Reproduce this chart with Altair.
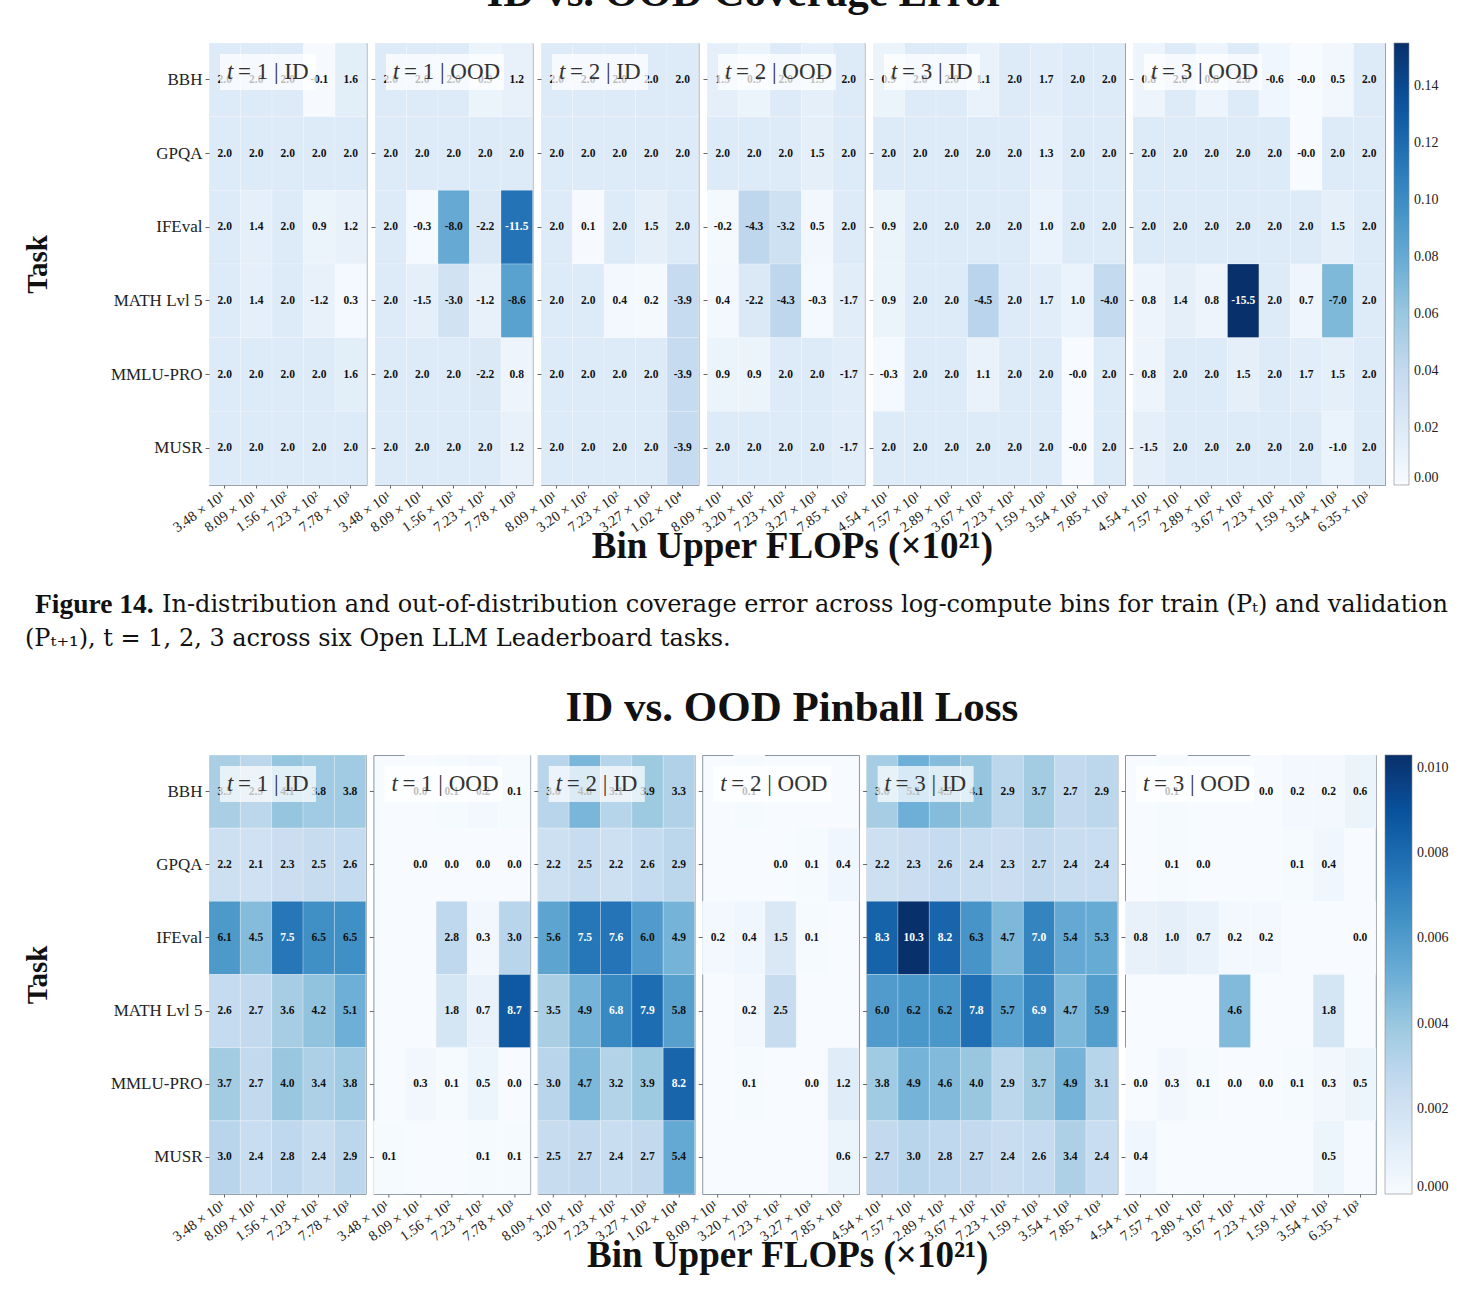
import altair as alt
import pandas as pd

SERIF = "Liberation Serif"
CAP_FONT = "DejaVu Serif"

TASKS = ["BBH", "GPQA", "IFEval", "MATH Lvl 5", "MMLU-PRO", "MUSR"]

# Bin upper edges (x10^21 FLOPs) for each panel
BINS_T1 = ["3.48 × 10¹", "8.09 × 10¹", "1.56 × 10²", "7.23 × 10²", "7.78 × 10³"]
BINS_T2_ID = ["8.09 × 10¹", "3.20 × 10²", "7.23 × 10²", "3.27 × 10³", "1.02 × 10⁴"]
BINS_T2_OOD = ["8.09 × 10¹", "3.20 × 10²", "7.23 × 10²", "3.27 × 10³", "7.85 × 10³"]
BINS_T3_ID = ["4.54 × 10¹", "7.57 × 10¹", "2.89 × 10²", "3.67 × 10²",
              "7.23 × 10²", "1.59 × 10³", "3.54 × 10³", "7.85 × 10³"]
BINS_T3_OOD = ["4.54 × 10¹", "7.57 × 10¹", "2.89 × 10²", "3.67 × 10²",
               "7.23 × 10²", "1.59 × 10³", "3.54 × 10³", "6.35 × 10³"]

# Coverage error (%), rows follow TASKS
COV_T1_ID = [[2.0, 2.0, 2.0, -0.1, 1.6],
             [2.0, 2.0, 2.0, 2.0, 2.0],
             [2.0, 1.4, 2.0, 0.9, 1.2],
             [2.0, 1.4, 2.0, -1.2, 0.3],
             [2.0, 2.0, 2.0, 2.0, 1.6],
             [2.0, 2.0, 2.0, 2.0, 2.0]]
COV_T1_OOD = [[2.0, 2.0, 2.0, 0.9, 1.2],
              [2.0, 2.0, 2.0, 2.0, 2.0],
              [2.0, -0.3, -8.0, -2.2, -11.5],
              [2.0, -1.5, -3.0, -1.2, -8.6],
              [2.0, 2.0, 2.0, -2.2, 0.8],
              [2.0, 2.0, 2.0, 2.0, 1.2]]
COV_T2_ID = [[2.0, 2.0, 2.0, 2.0, 2.0],
             [2.0, 2.0, 2.0, 2.0, 2.0],
             [2.0, 0.1, 2.0, 1.5, 2.0],
             [2.0, 2.0, 0.4, 0.2, -3.9],
             [2.0, 2.0, 2.0, 2.0, -3.9],
             [2.0, 2.0, 2.0, 2.0, -3.9]]
COV_T2_OOD = [[1.5, 0.9, 2.0, 1.5, 2.0],
              [2.0, 2.0, 2.0, 1.5, 2.0],
              [-0.2, -4.3, -3.2, 0.5, 2.0],
              [0.4, -2.2, -4.3, -0.3, -1.7],
              [0.9, 0.9, 2.0, 2.0, -1.7],
              [2.0, 2.0, 2.0, 2.0, -1.7]]
COV_T3_ID = [[0.9, 2.0, 2.0, 1.1, 2.0, 1.7, 2.0, 2.0],
             [2.0, 2.0, 2.0, 2.0, 2.0, 1.3, 2.0, 2.0],
             [0.9, 2.0, 2.0, 2.0, 2.0, 1.0, 2.0, 2.0],
             [0.9, 2.0, 2.0, -4.5, 2.0, 1.7, 1.0, -4.0],
             [-0.3, 2.0, 2.0, 1.1, 2.0, 2.0, -0.0, 2.0],
             [2.0, 2.0, 2.0, 2.0, 2.0, 2.0, -0.0, 2.0]]
COV_T3_OOD = [[0.8, 2.0, 0.8, 2.0, -0.6, -0.0, 0.5, 2.0],
              [2.0, 2.0, 2.0, 2.0, 2.0, -0.0, 2.0, 2.0],
              [2.0, 2.0, 2.0, 2.0, 2.0, 2.0, 1.5, 2.0],
              [0.8, 1.4, 0.8, -15.5, 2.0, 0.7, -7.0, 2.0],
              [0.8, 2.0, 2.0, 1.5, 2.0, 1.7, 1.5, 2.0],
              [-1.5, 2.0, 2.0, 2.0, 2.0, 2.0, -1.0, 2.0]]

# Pinball loss (x10^-3); None = no estimate in that bin
PIN_T1_ID = [[3.5, 2.9, 4.1, 3.8, 3.8],
             [2.2, 2.1, 2.3, 2.5, 2.6],
             [6.1, 4.5, 7.5, 6.5, 6.5],
             [2.6, 2.7, 3.6, 4.2, 5.1],
             [3.7, 2.7, 4.0, 3.4, 3.8],
             [3.0, 2.4, 2.8, 2.4, 2.9]]
PIN_T1_OOD = [[None, 0.0, 0.1, 0.2, 0.1],
              [None, 0.0, 0.0, 0.0, 0.0],
              [None, None, 2.8, 0.3, 3.0],
              [None, None, 1.8, 0.7, 8.7],
              [None, 0.3, 0.1, 0.5, 0.0],
              [0.1, None, None, 0.1, 0.1]]
PIN_T2_ID = [[3.0, 4.8, 3.1, 3.9, 3.3],
             [2.2, 2.5, 2.2, 2.6, 2.9],
             [5.6, 7.5, 7.6, 6.0, 4.9],
             [3.5, 4.9, 6.8, 7.9, 5.8],
             [3.0, 4.7, 3.2, 3.9, 8.2],
             [2.5, 2.7, 2.4, 2.7, 5.4]]
PIN_T2_OOD = [[None, 0.1, None, None, None],
              [None, None, 0.0, 0.1, 0.4],
              [0.2, 0.4, 1.5, 0.1, None],
              [None, 0.2, 2.5, None, None],
              [None, 0.1, None, 0.0, 1.2],
              [None, None, None, None, 0.6]]
PIN_T3_ID = [[3.6, 5.1, 4.5, 4.1, 2.9, 3.7, 2.7, 2.9],
             [2.2, 2.3, 2.6, 2.4, 2.3, 2.7, 2.4, 2.4],
             [8.3, 10.3, 8.2, 6.3, 4.7, 7.0, 5.4, 5.3],
             [6.0, 6.2, 6.2, 7.8, 5.7, 6.9, 4.7, 5.9],
             [3.8, 4.9, 4.6, 4.0, 2.9, 3.7, 4.9, 3.1],
             [2.7, 3.0, 2.8, 2.7, 2.4, 2.6, 3.4, 2.4]]
PIN_T3_OOD = [[None, 0.1, None, None, 0.0, 0.2, 0.2, 0.6],
              [None, 0.1, 0.0, None, None, 0.1, 0.4, None],
              [0.8, 1.0, 0.7, 0.2, 0.2, None, None, 0.0],
              [None, None, None, 4.6, None, None, 1.8, None],
              [0.0, 0.3, 0.1, 0.0, 0.0, 0.1, 0.3, 0.5],
              [0.4, None, None, None, None, None, 0.5, None]]

PANEL_T = ["1", "1", "2", "2", "3", "3"]
PANEL_SPLIT = ["ID", "OOD", "ID", "OOD", "ID", "OOD"]
PANEL_BINS = [BINS_T1, BINS_T1, BINS_T2_ID, BINS_T2_OOD, BINS_T3_ID, BINS_T3_OOD]
COV_PANELS = [COV_T1_ID, COV_T1_OOD, COV_T2_ID, COV_T2_OOD, COV_T3_ID, COV_T3_OOD]
PIN_PANELS = [PIN_T1_ID, PIN_T1_OOD, PIN_T2_ID, PIN_T2_OOD, PIN_T3_ID, PIN_T3_OOD]

TITLE_COV = "ID vs. OOD Coverage Error"
TITLE_PIN = "ID vs. OOD Pinball Loss"
X_TITLE = "Bin Upper FLOPs (×10²¹)"
CAPTION_BOLD = "Figure 14."
CAPTION_1 = ("In-distribution and out-of-distribution coverage error across "
             "log-compute bins for train (Pₜ) and validation")
CAPTION_2 = "(Pₜ₊₁), t = 1, 2, 3 across six Open LLM Leaderboard tasks."

BLUES = ["#f7fbff", "#deebf7", "#c6dbef", "#9ecae1", "#6baed6",
         "#4292c6", "#2171b5", "#08519c", "#08306b"]


def panel_frame(grid, bins, scale):
    rows = []
    for ti, task in enumerate(TASKS):
        for bi, b in enumerate(bins):
            v = grid[ti][bi]
            if v is None:
                continue
            rows.append({"task": task, "bin": b, "val": v,
                         "c": abs(v) / scale, "lab": f"{v:.1f}"})
    return pd.DataFrame(rows)


def make_panel(i, grid, scale, cmax, height, col_w, legend, white_above):
    bins = PANEL_BINS[i]
    df = panel_frame(grid, bins, scale)
    first = i == 0
    x = alt.X("bin:N", sort=bins, title=None,
              axis=alt.Axis(labelAngle=-35, labelAlign="right", labelBaseline="top",
                            labelFont=SERIF, labelFontSize=14.5, labelPadding=1,
                            labelOffset=-5, tickSize=3, tickColor="#666",
                            domain=False, labelColor="#222", labelOverlap=False))
    y = alt.Y("task:N", sort=TASKS, title="Task" if first else None,
              axis=alt.Axis(labels=first, labelFont=SERIF, labelFontSize=17,
                            labelColor="#222", labelPadding=3, tickSize=4,
                            tickColor="#666", domain=False,
                            titleFont=SERIF, titleFontSize=29, titleFontWeight="bold",
                            titleColor="#111", titlePadding=58))
    dom = [cmax * k / 8 for k in range(9)]
    rect = alt.Chart(df).mark_rect(stroke="white", strokeWidth=0.7,
                                   strokeOpacity=0.35).encode(
        x=x, y=y,
        color=alt.Color("c:Q", scale=alt.Scale(domain=dom, range=BLUES, nice=False),
                        legend=legend))
    text = alt.Chart(df).mark_text(font=SERIF, fontSize=11.5, fontWeight="bold").encode(
        x=x, y=y, text="lab:N",
        color=alt.condition(alt.datum.c > white_above, alt.value("white"),
                            alt.value("#111")))
    split = PANEL_SPLIT[i]
    box_w = 96 if split == "ID" else 118
    lab_df = pd.DataFrame({"t": ["t"], "rest": [f"= {PANEL_T[i]} | {split}"]})
    box = alt.Chart(lab_df).mark_rect(fill="white", opacity=0.72).encode(
        x=alt.value(11), x2=alt.value(11 + box_w), y=alt.value(11), y2=alt.value(47))
    lab_t = alt.Chart(lab_df).mark_text(font=SERIF, fontSize=23, fontStyle="italic",
                                        align="left", baseline="middle",
                                        color="#333").encode(
        x=alt.value(18), y=alt.value(29), text="t:N")
    lab_rest = alt.Chart(lab_df).mark_text(font=SERIF, fontSize=23, align="left",
                                           baseline="middle", color="#333").encode(
        x=alt.value(29), y=alt.value(29), text="rest:N")
    return alt.layer(rect, text, box, lab_t, lab_rest).properties(
        width=col_w * len(bins), height=height,
        view=alt.ViewBackground(fill="#f7fbff", stroke="#8a96a3", strokeWidth=1))


def make_block(panels_data, scale, cmax, ticks, fmt, height, col_w, bar_w,
               white_above, title, title_offset, title_dx, spacing):
    legend = alt.Legend(title=None, orient="right", values=ticks, format=fmt,
                        gradientLength=height, gradientThickness=bar_w,
                        gradientStrokeColor="#888", gradientStrokeWidth=0.6,
                        labelFont=SERIF, labelFontSize=14, labelColor="#222",
                        labelOffset=5, offset=8)
    panels = [make_panel(i, g, scale, cmax, height, col_w, legend, white_above)
              for i, g in enumerate(panels_data)]
    grid = alt.hconcat(*panels, spacing=spacing, bounds="flush",
                       title=alt.TitleParams(X_TITLE, orient="bottom", anchor="middle",
                                             font=SERIF, fontSize=37,
                                             fontWeight="bold", color="#111",
                                             offset=-6, dx=88)
                       ).resolve_scale(color="shared")
    return alt.vconcat(grid, title=alt.TitleParams(title, anchor="middle", font=SERIF,
                                                   fontSize=43, fontWeight="bold",
                                                   color="#111", offset=title_offset,
                                                   dx=title_dx))


cov_max = max(abs(v) for g in COV_PANELS for r in g for v in r) / 100
pin_max = max(v for g in PIN_PANELS for r in g for v in r if v is not None) / 1000

top = make_block(COV_PANELS, 100, cov_max, [0.02 * k for k in range(8)], ".2f",
                 442, 31.5, 15, 0.10, TITLE_COV, 27, 15, 8)
bottom = make_block(PIN_PANELS, 1000, pin_max, [0.002 * k for k in range(6)], ".3f",
                    439, 31.35, 27, 0.0066, TITLE_PIN, 24, 56, 7.4)

cap_df = pd.DataFrame({"b": [CAPTION_BOLD], "l1": [CAPTION_1], "l2": [CAPTION_2]})
cap_base = alt.Chart(cap_df)
caption = alt.layer(
    cap_base.mark_text(font=SERIF, fontSize=27.5, fontWeight="bold", align="left",
                       baseline="middle", color="#111").encode(
        x=alt.value(-174), y=alt.value(39), text="b:N"),
    cap_base.mark_text(font=CAP_FONT, fontSize=24, align="left", baseline="middle",
                       color="#111").encode(
        x=alt.value(-47), y=alt.value(39), text="l1:N"),
    cap_base.mark_text(font=CAP_FONT, fontSize=24, align="left", baseline="middle",
                       color="#111").encode(
        x=alt.value(-184), y=alt.value(73), text="l2:N"),
).properties(width=1100, height=121, view=alt.ViewBackground(stroke=None))

chart = alt.vconcat(top, caption, bottom, spacing=0).resolve_scale(
    color="independent"
).properties(
    padding={"left": 22, "top": -28, "right": 0, "bottom": 0},
    background="white",
).configure_view(stroke=None)

chart.save("out.html", embed_options={"renderer": "svg", "actions": False})
